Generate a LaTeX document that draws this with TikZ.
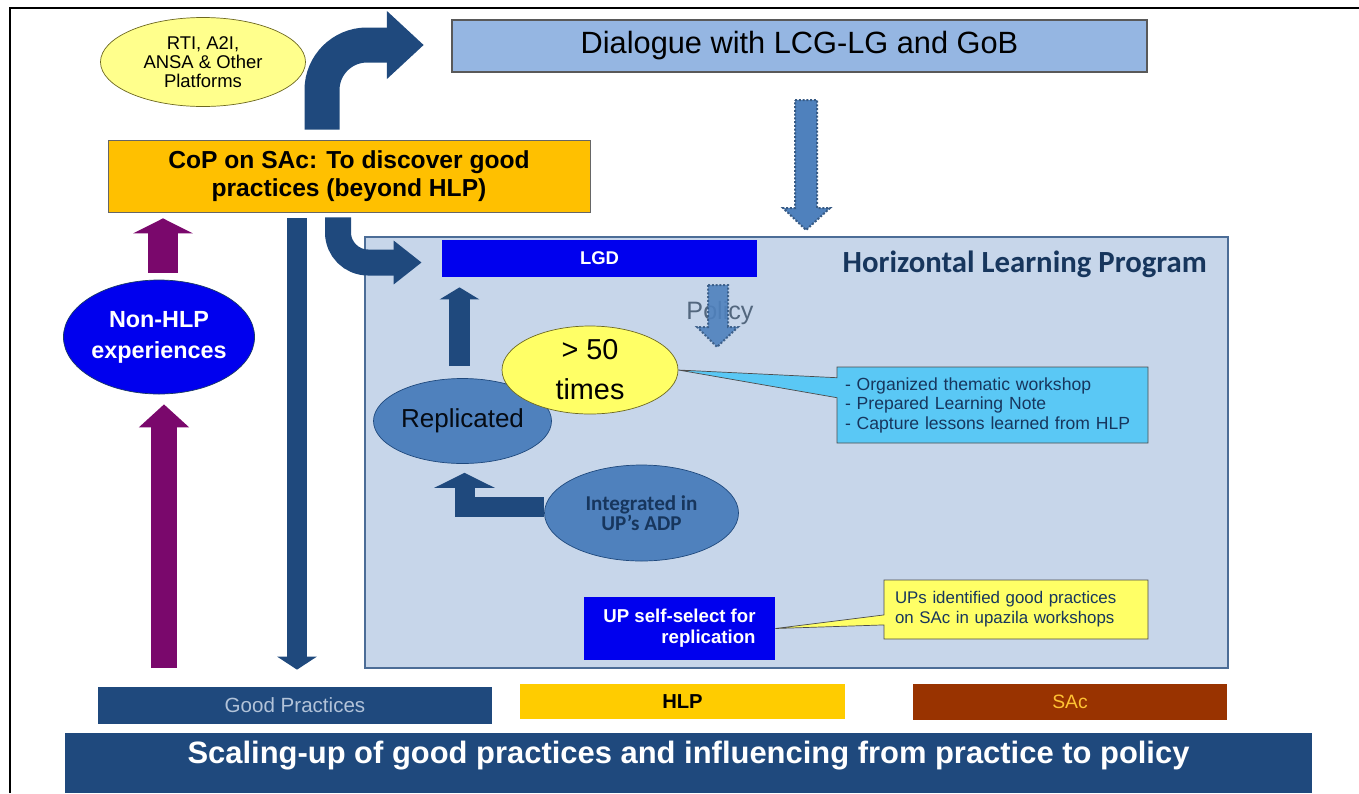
\documentclass[tikz,border=0pt]{standalone}
\usepackage{fontspec}
\setmainfont{Liberation Sans}
\newfontfamily\calibri{Carlito}
\usetikzlibrary{shapes.geometric,shapes.callouts,arrows.meta,positioning,calc}

\definecolor{navy}{RGB}{31,73,125}
\definecolor{plum}{RGB}{122,8,108}
\definecolor{royal}{RGB}{0,0,238}
\definecolor{gold}{RGB}{255,192,0}
\definecolor{amber}{RGB}{255,204,0}
\definecolor{rust}{RGB}{153,51,0}
\definecolor{lemon}{RGB}{255,255,102}
\definecolor{pale}{RGB}{255,255,140}
\definecolor{sky}{RGB}{149,182,226}
\definecolor{panel}{RGB}{199,214,234}
\definecolor{steel}{RGB}{79,129,189}
\definecolor{aqua}{RGB}{90,200,245}
\definecolor{ink}{RGB}{23,54,93}

\newcommand{\fsize}[2]{\fontsize{#1}{#2}\selectfont}

\tikzset{
    box/.style={
        rectangle,
        inner sep=0pt,
        align=center
    },
    oval/.style={
        draw,
        ellipse,
        inner sep=0pt,
        align=center
    },
    note/.style={
        rectangle callout,
        draw=black!70,
        inner ysep=0pt,
        align=left
    },
    fat/.style n args={3}{
        line width=#1,
        -{Triangle[length=#2, width=#3]}
    },
    dotarrow/.style={
        fill=steel,
        draw=steel!70!black,
        densely dotted,
        line width=0.4mm
    },
}

\begin{document}
\begin{tikzpicture}[x=0.2mm, y=-0.2mm]
    \useasboundingbox (0,0) rectangle (1359,793);
    % frame
    \draw[line width=0.45mm] (10,793) -- (10,8) -- (1359,8);

    % upper blocks
    \node[oval, fill=pale, draw=olive!70!black, minimum width=41mm, minimum height=17.8mm, font=\fsize{10.5}{10.8}] (rti) at (203,62) {RTI, A2I,\\ANSA \& Other\\Platforms};
    \node[box, fill=sky, draw=black!65, line width=0.5mm, minimum width=139mm, minimum height=10.4mm, font=\fsize{17.5}{20}] (dialogue) at (799.5,46) {Dialogue with LCG-LG and GoB};
    \node[box, fill=gold, draw=black!60, minimum width=96.4mm, minimum height=14.4mm, font=\bfseries\fsize{14}{16}] (cop) at (349,176) {CoP on SAc: To discover good\\practices (beyond HLP)};
    \node[oval, fill=royal, draw=navy!80!black, text=white, minimum width=35.6mm, minimum height=22.8mm, font=\bfseries\fsize{13.3}{17.6}] (nonhlp) at (159,337) {Non-HLP\\experiences};

    % horizontal learning panel
    \node[box, fill=panel, draw=navy!80, line width=0.4mm, minimum width=172.6mm, minimum height=86.2mm] (hlp) at (796.5,452.5) {};
    \node[anchor=east, text=ink, font=\calibri\bfseries\fsize{17.5}{19}] (hlptitle) at ([shift={(-16,28)}]hlp.north east) {Horizontal Learning Program};
    \node[box, fill=royal, text=white, minimum width=63mm, minimum height=7.4mm, font=\bfseries\fsize{10.5}{12}] (lgd) at (599.5,258.5) {LGD};
    \node[text=steel!50!black!80!white, font=\fsize{14.3}{16}] (policy) at (720,313) {Policy};
    \draw[dotarrow, opacity=0.9] (708,285) -- (728,285) -- (728,327) -- (738,327) -- (717,347) -- (697,327) -- (708,327) -- cycle;

    \node[oval, fill=steel, draw=navy, minimum width=35.6mm, minimum height=17mm, text=black!85!navy, font=\fsize{14.8}{16}] (replicated) at (462.5,421) {Replicated};
    \node[oval, fill=lemon, draw=olive!70!black, minimum width=35.2mm, minimum height=17.6mm, font=\fsize{16.4}{22.7}] (gtfifty) at (590,370) {> 50\\times};
    \node[oval, fill=steel, draw=navy, minimum width=38.8mm, minimum height=19.2mm, text=ink, font=\calibri\bfseries\fsize{12}{11.6}] (integrated) at (641.5,513) {Integrated in\\UP’s ADP};
    \node[box, fill=royal, text=white, align=right, minimum width=38.2mm, minimum height=12.6mm, font=\bfseries\fsize{10.6}{12}] (upselect) at (679.5,628.5) {UP self-select for\\replication};

    % callouts
    \node[note, fill=aqua, minimum width=62.2mm, minimum height=15.2mm, text width=59mm, inner xsep=1.6mm, text=ink, font=\fsize{10}{11.1},
        callout absolute pointer={(gtfifty.east)}, callout pointer width=4mm] (notelearn) at (992.5,405)
        {- Organized thematic workshop\\- Prepared Learning Note\\- Capture lessons learned from HLP};
    \node[note, fill=lemon, minimum width=52.8mm, minimum height=11.8mm, text width=48.4mm, inner xsep=2.2mm, text=ink, font=\fsize{9.6}{11.4},
        callout absolute pointer={(upselect.east)}, callout pointer width=2mm] (noteup) at (1016,609.5)
        {UPs identified good practices\\on SAc in upazila workshops};

    % legend and banner
    \node[box, fill=navy, text=black!15!sky!60!white, minimum width=78.8mm, minimum height=7.4mm, font=\fsize{11.7}{12}] (goodpr) at (295,705.5) {Good Practices};
    \node[box, fill=amber, minimum width=65mm, minimum height=7mm, font=\bfseries\fsize{11.5}{12}] (hlpkey) at (682.5,701.5) {HLP};
    \node[box, fill=rust, text=orange!60!yellow!80!white, minimum width=62.8mm, minimum height=7.2mm, font=\fsize{11}{12}] (sackey) at (1070,702) {SAc};
    \node[box, fill=navy, text=white, minimum width=249.4mm, minimum height=12mm, text height=4.4mm, text depth=4.4mm, font=\bfseries\fsize{17.6}{19}] (banner) at (688.5,763) {Scaling-up of good practices and influencing from practice to policy};

    % arrows
    \draw[navy, fat={7mm}{7.4mm}{13.2mm}, rounded corners=9mm] ([shift={(-27,-10)}]cop.north) |- ([shift={(-27,-1)}]dialogue.west);
    \draw[navy, fat={5.2mm}{5.6mm}{8.4mm}, rounded corners=6mm] ([shift={(-11,5)}]cop.south) |- ([shift={(-20,4)}]lgd.west);
    \draw[navy, fat={4mm}{2.6mm}{7.8mm}] ([shift={(-52,6)}]cop.south) -- ([shift={(2,-17)}]goodpr.north);
    \draw[plum, fat={6mm}{3mm}{11.8mm}] ([shift={(4,-7)}]nonhlp.north) -- ([shift={(-186,6)}]cop.south);
    \coordinate (plumbase) at (164,668);
    \draw[plum, fat={5.2mm}{4.6mm}{9.8mm}] (plumbase) -- ([shift={(5,10)}]nonhlp.south);
    \draw[navy, fat={4.2mm}{2.4mm}{7.8mm}] ([shift={(-3,-12)}]replicated.north) -- ([shift={(-140,10)}]lgd.south);
    \draw[navy, fat={4mm}{3mm}{12mm}] ([shift={(0,-6)}]integrated.west) -| ([shift={(2,9)}]replicated.south);
    \draw[dotarrow] (795,100) -- (817,100) -- (817,208) -- (830,208) -- (806,230) -- (783,208) -- (795,208) -- cycle;
\end{tikzpicture}
\end{document}
